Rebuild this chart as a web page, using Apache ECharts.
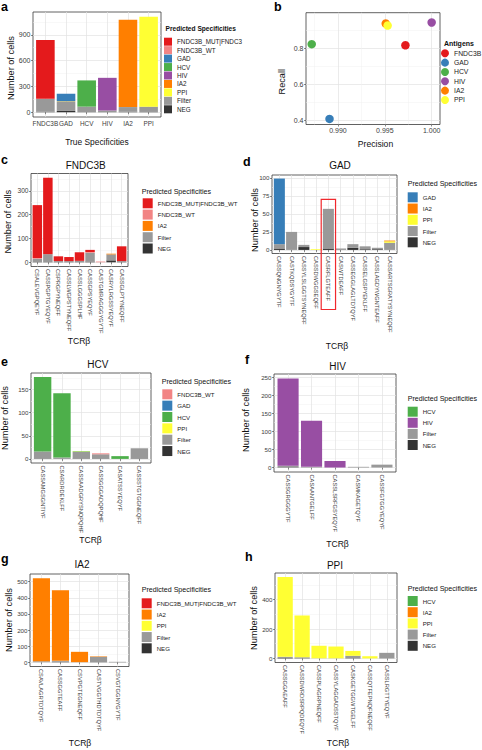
<!DOCTYPE html>
<html>
<head>
<meta charset="utf-8">
<script src="https://cdn.jsdelivr.net/npm/echarts@6/dist/echarts.min.js"></script>
<style>html,body{margin:0;padding:0;background:#fff}#chart{width:482px;height:750px}</style>
</head>
<body>
<div id="chart"></div>
<script>
// ================= DATA =================
// Panel a – true specificity vs predicted specificity (counts of cells)
const aCategories = ['FNDC3B', 'GAD', 'HCV', 'HIV', 'IA2', 'PPI'];
const aNEG        = [5, 15, 2, 2, 5, 3];
const aFilter     = [150, 105, 63, 18, 55, 62];
const aPPI        = [0, 4, 0, 0, 0, 1045];
const aIA2        = [0, 3, 0, 0, 1015, 0];
const aHIV        = [0, 0, 0, 380, 0, 0];
const aHCV        = [0, 0, 305, 0, 0, 0];
const aGAD        = [0, 88, 0, 0, 0, 0];
const aFNDC3B_WT  = [2, 0, 0, 0, 0, 0];
const aFNDC3B_MUT = [683, 0, 0, 0, 0, 0];
const aYTicks     = [0, 300, 600, 900];

// Panel b – precision / recall per antigen
const bAntigens  = ['FNDC3B', 'GAD', 'HCV', 'HIV', 'IA2', 'PPI'];
const bPrecision = [0.9972, 0.9891, 0.9872, 1.0000, 0.9951, 0.9953];
const bRecall    = [0.817, 0.410, 0.823, 0.943, 0.937, 0.926];
const bXTicks    = [0.990, 0.995, 1.000];
const bYTicks    = [0.4, 0.6, 0.8];
const bXRange    = [0.98659, 1.00089];
const bYRange    = [0.379, 0.997];

// Panel c – FNDC3B clonotypes
const cCategories = ['CSALEVGPQEYF', 'CASSPGPTGYEQYF', 'CSPRGPYNEQFF', 'CASSLWGPSTYNEQFF', 'CASSLGGGSPLHF',
                     'CASSGPSYEQYF', 'CASTGMRAGGGYGYTF', 'CASRYLRGSSYEQYF', 'CASSGLPTYNEQFF'];
const cNEG        = [1, 1, 1, 1, 1, 3, 0, 8, 1];
const cFilter     = [14, 33, 4, 4, 5, 37, 0, 25, 4];
const cIA2        = [0, 0, 0, 0, 0, 0, 0, 3, 0];
const cFNDC3B_WT  = [3, 0, 0, 0, 0, 3, 3, 0, 0];
const cFNDC3B_MUT = [222, 321, 20, 17, 36, 9, 0, 0, 62];
const cYTicks     = [0, 100, 200, 300];

// Panel d – GAD clonotypes
const dCategories = ['CASSQNGNYGYTF', 'CASTKQDSYGYTF', 'CASSYLSLGGTSYNEQFF', 'CASSDWGGSEQFF', 'CASRFLGTEAFF',
                     'CASWTDEAFF', 'CASSEGGLAGLTDTQYF', 'CASSELGSPYEKLFF', 'CASSLAGDYWGNTEAFF', 'CASSARTSGRATYSYNEQFF'];
const dNEG        = [2, 0, 4, 0, 2, 0, 3, 1, 1, 0];
const dFilter     = [6, 25, 3, 0, 55, 2, 5, 4, 2, 10];
const dPPI        = [0, 0, 0, 1, 0, 0, 0, 0, 0, 2];
const dIA2        = [0, 0, 0, 0, 0, 0, 0, 0, 0, 1];
const dGAD        = [91, 0, 0, 0, 0, 0, 0, 0, 0, 0];
const dYTicks     = [0, 25, 50, 75, 100];
const dHighlightIndex = 4;
const dHighlightTop   = 70;

// Panel e – HCV clonotypes
const eCategories = ['CASSAMGSGNTIYF', 'CSARDRDEKLFF', 'CASSAADGRYSNQPQHF', 'CASSGGGADQPQHF', 'CASATSSYEQYF', 'CASSSTGTGGNEQFF'];
const eNEG        = [1, 0, 1, 1, 0, 1];
const eFilter     = [15, 3, 14, 9, 0, 22];
const ePPI        = [0, 0, 1, 0, 0, 0];
const eHCV        = [161, 139, 1, 0, 6, 0];
const eGAD        = [0, 0, 0, 0, 0, 0];
const eFNDC3B_WT  = [0, 0, 0, 2, 0, 0];
const eYTicks     = [0, 50, 100, 150];

// Panel f – HIV clonotypes
const fCategories = ['CASSGRGGGYTF', 'CASAANTGELFF', 'CASSLSRFGSYEQYF', 'CASMKAGETQYF', 'CASSFGTGGYEQYF'];
const fNEG        = [1, 0, 0, 0, 0];
const fFilter     = [4, 2, 0, 2, 8];
const fHIV        = [241, 127, 18, 0, 0];
const fHCV        = [0, 0, 0, 0, 0];
const fYTicks     = [0, 50, 100, 150, 200, 250];

// Panel g – IA2 clonotypes
const gCategories = ['CSAVLAGRTDTQYF', 'CASSGGTEAFF', 'CSVPGTEGNEQFF', 'CASTVGGTHDTDTQYF', 'CSVGTGGNYGYTF'];
const gNEG        = [1, 3, 0, 1, 1];
const gFilter     = [5, 6, 1, 33, 2];
const gPPI        = [0, 0, 0, 0, 0];
const gIA2        = [516, 438, 64, 3, 0];
const gFNDC3B_MUT = [0, 0, 0, 0, 0];
const gYTicks     = [0, 100, 200, 300, 400, 500];

// Panel h – PPI clonotypes
const hCategories = ['CASSGGAEAFF', 'CASSDWRDSRPQDEQYF', 'CASSPLAGRPNEQFF', 'CASSYLAGGADSSTQYF', 'CASKGETGGWTGELFF',
                     'CASSQTFEPNQFNEQFF', 'CASSLRGTTYEQYF'];
const hNEG        = [3, 2, 0, 0, 2, 0, 1];
const hFilter     = [8, 6, 1, 1, 16, 0, 37];
const hPPI        = [542, 284, 85, 80, 33, 15, 0];
const hIA2        = [0, 0, 0, 0, 0, 0, 0];
const hHCV        = [0, 0, 0, 0, 0, 0, 0];
const hYTicks     = [0, 200, 400];

// ================= STYLE / LAYOUT =================
const FONT = '"Liberation Sans", Arial, Helvetica, sans-serif';
const MAJOR = '#e2e2e2', MINOR = '#f1f1f1', BORDER = '#3a3a3a', TICKTXT = '#3d3d3d';
const COLOR = {
  'FNDC3B_MUT|FNDC3B_WT': '#E41A1C', 'FNDC3B_WT': '#F28484', 'FNDC3B': '#E41A1C',
  GAD: '#377EB8', HCV: '#4DAF4A', HIV: '#984EA3', IA2: '#FF7F00', PPI: '#FFFF33',
  Filter: '#999999', NEG: '#333333'
};
const STACK_ORDER = ['NEG', 'Filter', 'PPI', 'IA2', 'HIV', 'HCV', 'GAD', 'FNDC3B_WT', 'FNDC3B_MUT|FNDC3B_WT'];
const LEGEND_ORDER = STACK_ORDER.slice().reverse();

const BAR_PANELS = [
  {key: 'a', cats: aCategories, ticks: aYTicks, series: {'NEG': aNEG, 'Filter': aFilter, 'PPI': aPPI, 'IA2': aIA2, 'HIV': aHIV, 'HCV': aHCV, 'GAD': aGAD, 'FNDC3B_WT': aFNDC3B_WT, 'FNDC3B_MUT|FNDC3B_WT': aFNDC3B_MUT}},
  {key: 'c', cats: cCategories, ticks: cYTicks, series: {'NEG': cNEG, 'Filter': cFilter, 'IA2': cIA2, 'FNDC3B_WT': cFNDC3B_WT, 'FNDC3B_MUT|FNDC3B_WT': cFNDC3B_MUT}},
  {key: 'd', cats: dCategories, ticks: dYTicks, series: {'NEG': dNEG, 'Filter': dFilter, 'PPI': dPPI, 'IA2': dIA2, 'GAD': dGAD}},
  {key: 'e', cats: eCategories, ticks: eYTicks, series: {'NEG': eNEG, 'Filter': eFilter, 'PPI': ePPI, 'HCV': eHCV, 'GAD': eGAD, 'FNDC3B_WT': eFNDC3B_WT}},
  {key: 'f', cats: fCategories, ticks: fYTicks, series: {'NEG': fNEG, 'Filter': fFilter, 'HIV': fHIV, 'HCV': fHCV}},
  {key: 'g', cats: gCategories, ticks: gYTicks, series: {'NEG': gNEG, 'Filter': gFilter, 'PPI': gPPI, 'IA2': gIA2, 'FNDC3B_MUT|FNDC3B_WT': gFNDC3B_MUT}},
  {key: 'h', cats: hCategories, ticks: hYTicks, series: {'NEG': hNEG, 'Filter': hFilter, 'PPI': hPPI, 'IA2': hIA2, 'HCV': hHCV}}
];

const LAYOUT = {
  a: {frame: [33, 12, 128, 105], rot: 0, xFont: 6.4, yFont: 7, xMargin: 3.5,
      legend: {left: 164, top: 37.7, size: 8, gap: 0.45, font: 6.3, width: 68}, lt: {x: 165.5, y: 28.7, size: 6.6, bold: true},
      letter: [1, 7], title: null, xt: {text: 'True Specificities', x: 97, y: 142.3, size: 8.4}, yt: [11, 68]},
  b: {frame: [306, 12.7, 134, 111.8],
      legend: {left: 441, top: 49.3, size: 8, gap: 1.33, font: 6.8}, lt: {x: 444, y: 43, size: 7, bold: true},
      letter: [274, 7.3], xt: {text: 'Precision', x: 375.5, y: 144.3, size: 8.6}, yt: [281.7, 81.7]},
  c: {frame: [31, 173.5, 97, 93], rot: -90, xFont: 5.7, yFont: 6.6, xMargin: 2.5,
      legend: {left: 142.7, top: 198.3, size: 10, gap: 1.3, font: 6.1}, lt: {x: 141.7, y: 191.7, size: 7.1},
      letter: [1, 160], title: ['FNDC3B', 85.7, 165.3], xt: {text: 'TCRβ', x: 79, y: 341, size: 8.6}, yt: [8, 221.7]},
  d: {frame: [272, 175, 125, 78.5], rot: -90, xFont: 5.7, yFont: 6.2, xMargin: 2.5,
      legend: {left: 407.7, top: 192.3, size: 10, gap: 1.25, font: 6.1}, lt: {x: 407.7, y: 184.3, size: 7.1},
      letter: [243, 161.7], title: ['GAD', 340, 165.3], xt: {text: 'TCRβ', x: 337, y: 345.7, size: 8.6}, yt: [255, 220]},
  e: {frame: [31, 373, 120, 90], rot: -90, xFont: 5.7, yFont: 6.2, xMargin: 2.5,
      legend: {left: 162.3, top: 389.3, size: 10, gap: 1.35, font: 6.1}, lt: {x: 161.7, y: 382.3, size: 7.1},
      letter: [1, 361.7], title: ['HCV', 97.8, 364.3], xt: {text: 'TCRβ', x: 90.5, y: 540, size: 8.6}, yt: [5, 418]},
  f: {frame: [274, 374, 122, 98], rot: -90, xFont: 5.7, yFont: 6.2, xMargin: 2.5,
      legend: {left: 407.7, top: 406.7, size: 10, gap: 1.1, font: 6.1}, lt: {x: 407.7, y: 399, size: 7.1},
      letter: [245, 360], title: ['HIV', 337.7, 366], xt: {text: 'TCRβ', x: 337.5, y: 544.3, size: 8.6}, yt: [246, 420]},
  g: {frame: [30, 574, 99, 92.5], rot: -90, xFont: 5.7, yFont: 6.2, xMargin: 2.5,
      legend: {left: 141.7, top: 598.3, size: 10, gap: 1.25, font: 6.1}, lt: {x: 141.7, y: 590, size: 7.1},
      letter: [1, 559], title: ['IA2', 82, 564.3], xt: {text: 'TCRβ', x: 80, y: 742.7, size: 8.6}, yt: [8.5, 620]},
  h: {frame: [275, 573, 122, 89.5], rot: -90, xFont: 5.7, yFont: 6.2, xMargin: 2.5,
      legend: {left: 407.7, top: 596, size: 10, gap: 1.2, font: 6.1}, lt: {x: 407.7, y: 589, size: 7.1},
      letter: [245, 557], title: ['PPI', 335, 565], xt: {text: 'TCRβ', x: 338, y: 743.3, size: 8.6}, yt: [254, 618]}
};

// ================= BUILD =================
const option = {
  animation: false, backgroundColor: '#ffffff',
  textStyle: {fontFamily: FONT},
  grid: [], xAxis: [], yAxis: [], series: [], legend: [], graphic: {elements: []}
};
const texts = option.graphic.elements;
const axisIdx = {};

function addGrid(fr, show) {
  option.grid.push({left: fr[0], top: fr[1], width: fr[2], height: fr[3], show: !!show,
    borderColor: BORDER, borderWidth: 0.8, backgroundColor: show ? '#ffffff' : 'transparent', containLabel: false});
  return option.grid.length - 1;
}
function midpoints(ticks, min, max) {
  const step = ticks[1] - ticks[0];
  const out = [];
  for (let k = -1; k <= ticks.length + 2; k++) {
    const v = ticks[0] + (k + 0.5) * step;
    if (v > min && v < max) out.push(+v.toFixed(8));
  }
  return out;
}
// major+minor value axes on a frame grid; returns index of the major axis
function valueAxes(list, dim, gi, min, max, majors, fontSize, fmt, rotate, margin, withMinor) {
  const pos = dim === 'y' ? 'left' : 'bottom';
  if (withMinor) {
    list.push({type: 'value', gridIndex: gi, min, max, position: pos, show: true,
      axisLine: {show: false}, axisTick: {show: false, customValues: midpoints(majors, min, max)},
      axisLabel: {show: false}, splitLine: {show: true, lineStyle: {color: MINOR, width: 0.5}}});
  }
  const lab = {customValues: majors, fontSize, color: TICKTXT, margin: margin == null ? 2.5 : margin,
    fontFamily: FONT, rotate: rotate || 0, showMinLabel: true, showMaxLabel: true, hideOverlap: false};
  if (fmt) lab.formatter = fmt;
  list.push({type: 'value', gridIndex: gi, min, max, position: pos,
    axisLine: {show: false},
    axisTick: {show: true, length: 2, customValues: majors, lineStyle: {color: BORDER, width: 0.6}},
    axisLabel: lab, splitLine: {show: true, lineStyle: {color: MAJOR, width: 0.7}}});
  return list.length - 1;
}
function addText(text, x, y, size, opts) {
  opts = opts || {};
  texts.push({type: 'text', x, y, rotation: opts.rot || 0, silent: true, z: 50,
    style: {text, fontSize: size, fontFamily: FONT, fontWeight: opts.bold ? 'bold' : 'normal',
      fill: opts.color || '#111111', align: opts.align || 'center', verticalAlign: 'middle'}});
}
function addLegend(L, names, icon, title) {
  const ts = {fontSize: L.legend.font, color: '#1a1a1a', fontFamily: FONT};
  if (L.legend.width) { ts.width = L.legend.width; ts.overflow = 'truncate'; ts.ellipsis = ''; }
  option.legend.push({orient: 'vertical', left: L.legend.left, top: L.legend.top, padding: 0,
    itemWidth: L.legend.size, itemHeight: L.legend.size, itemGap: L.legend.gap, icon,
    selectedMode: false, data: names, textStyle: ts, itemStyle: {borderWidth: 0}});
  addText(title, L.lt.x, L.lt.y, L.lt.size, {bold: !!L.lt.bold, align: 'left'});
}

// ---- bar panels ----
BAR_PANELS.forEach(p => {
  const L = LAYOUT[p.key];
  const fr = L.frame;
  const n = p.cats.length;
  const unit = fr[2] / (n + 0.2);           // ggplot discrete scale: 0.6 units padding each side
  const maxTotal = Math.max(...p.cats.map((c, i) =>
    Object.keys(p.series).reduce((s, k) => s + p.series[k][i], 0)));
  const ymin = -0.05 * maxTotal, ymax = 1.05 * maxTotal;
  const centres = p.cats.map((c, i) => i + 1);

  // frame grid: border, grid lines, ticks and labels
  const gi = addGrid(fr, true);
  const fx = valueAxes(option.xAxis, 'x', gi, 0.4, n + 0.6, centres, L.xFont,
    v => p.cats[Math.round(v) - 1], L.rot, L.xMargin, false);
  const fy = valueAxes(option.yAxis, 'y', gi, ymin, ymax, p.ticks, L.yFont, null, 0, 2.5, true);

  // inner grid holding the bars (category bands coincide with the ggplot positions)
  const gi2 = addGrid([fr[0] + 0.1 * unit, fr[1], n * unit, fr[3]], false);
  option.xAxis.push({type: 'category', gridIndex: gi2, data: p.cats, show: false});
  const xi = option.xAxis.length - 1;
  option.yAxis.push({type: 'value', gridIndex: gi2, min: ymin, max: ymax, show: false});
  const yi = option.yAxis.length - 1;
  axisIdx[p.key] = {x: xi, y: yi, fx, fy};

  STACK_ORDER.forEach(name => {
    if (!p.series[name]) return;
    option.series.push({type: 'bar', name, xAxisIndex: xi, yAxisIndex: yi, stack: 'stack_' + p.key,
      data: p.series[name], barWidth: 0.9 * unit, silent: true,
      itemStyle: {color: COLOR[name]}, emphasis: {disabled: true}});
  });
  addLegend(L, LEGEND_ORDER.filter(nm => p.series[nm]), 'rect', 'Predicted Specificities');
  addText(p.key, L.letter[0], L.letter[1], 12.5, {bold: true, align: 'left', color: '#000'});
  if (L.title) addText(L.title[0], L.title[1], L.title[2], 10);
  addText(L.xt.text, L.xt.x, L.xt.y, L.xt.size);
  addText('Number of cells', L.yt[0], L.yt[1], 9.2, {rot: Math.PI / 2});
});

// ---- scatter panel b ----
(function () {
  const L = LAYOUT.b;
  const gi = addGrid(L.frame, true);
  const xi = valueAxes(option.xAxis, 'x', gi, bXRange[0], bXRange[1], bXTicks, 7, v => v.toFixed(3), 0, 2.5, true);
  const yi = valueAxes(option.yAxis, 'y', gi, bYRange[0], bYRange[1], bYTicks, 7, v => v.toFixed(1), 0, 2.5, true);
  bAntigens.forEach((name, i) => {
    option.series.push({type: 'scatter', name, xAxisIndex: xi, yAxisIndex: yi, symbolSize: 8.5,
      data: [[bPrecision[i], bRecall[i]]], itemStyle: {color: COLOR[name], opacity: 1},
      silent: true, emphasis: {disabled: true}, z: 3});
  });
  addLegend(L, bAntigens, 'circle', 'Antigens');
  addText('b', L.letter[0], L.letter[1], 12.5, {bold: true, align: 'left', color: '#000'});
  addText(L.xt.text, L.xt.x, L.xt.y, L.xt.size);
  addText('Recall', L.yt[0], L.yt[1], 9.2, {rot: Math.PI / 2});
})();

const chart = echarts.init(document.getElementById('chart'), null, {renderer: 'svg', width: 482, height: 750});
chart.setOption(option);

// red highlight box around the selected GAD clonotype (position derived from the axes)
(function () {
  const ax = axisIdx.d;
  const cx = chart.convertToPixel({xAxisIndex: ax.fx}, dHighlightIndex + 1);
  const topY = chart.convertToPixel({yAxisIndex: ax.fy}, dHighlightTop);
  const fr = LAYOUT.d.frame;
  const bw = 0.9 * fr[2] / (dCategories.length + 0.2);
  const bottom = fr[1] + fr[3] + 56;
  texts.push({type: 'rect', silent: true, z: 60,
    shape: {x: cx - bw * 0.65, y: topY, width: bw * 1.3, height: bottom - topY},
    style: {fill: 'none', stroke: '#F0282D', lineWidth: 1.2}});
  chart.setOption({graphic: {elements: texts}});
})();
</script>
</body>
</html>
